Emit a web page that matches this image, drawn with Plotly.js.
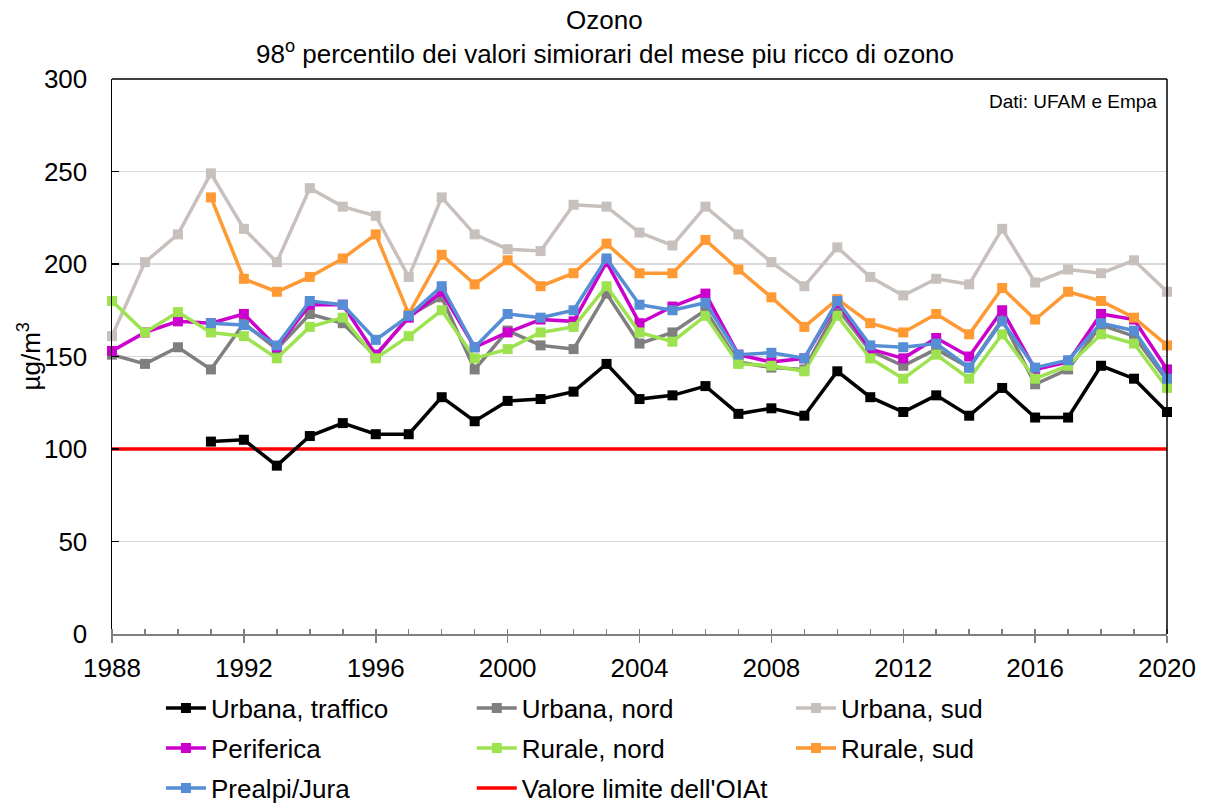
<!DOCTYPE html>
<html>
<head>
<meta charset="utf-8">
<script src="https://cdn.plot.ly/plotly-3.0.1.min.js"></script>
<style>html,body{margin:0;padding:0;background:#fff;}#chart{width:1210px;height:807px;}</style>
</head>
<body>
<div id="chart"></div>
<script>
const years = [1988,1989,1990,1991,1992,1993,1994,1995,1996,1997,1998,1999,2000,2001,2002,2003,2004,2005,2006,2007,2008,2009,2010,2011,2012,2013,2014,2015,2016,2017,2018,2019,2020];

const urbanaTraffico = [null,null,null,104,105,91,107,114,108,108,128,115,126,127,131,146,127,129,134,119,122,118,142,128,120,129,118,133,117,117,145,138,120];
const urbanaNord = [151,146,155,143,168,154,173,168,150,172,182,143,164,156,154,184,157,163,175,147,144,143,176,153,145,154,144,170,135,143,167,161,137];
const urbanaSud = [161,201,216,249,219,201,241,231,226,193,236,216,208,207,232,231,217,210,231,216,201,188,209,193,183,192,189,219,190,197,195,202,185];
const periferica = [153,163,169,168,173,155,178,178,151,171,185,155,163,170,169,201,168,177,184,151,147,149,179,154,149,160,150,175,143,147,173,170,143];
const ruraleNord = [180,163,174,163,161,149,166,171,149,161,175,149,154,163,166,188,163,158,172,146,145,142,172,149,138,151,138,162,138,145,162,157,133];
const ruraleSud = [null,null,null,236,192,185,193,203,216,173,205,189,202,188,195,211,195,195,213,197,182,166,181,168,163,173,162,187,170,185,180,171,156];
const prealpiJura = [null,null,null,168,167,156,180,178,159,172,188,155,173,171,175,203,178,175,179,151,152,149,180,156,155,157,144,169,144,148,168,164,138];
const limitValue = [100,100];
const limitYears = [1988,2020];

const names = ["Urbana, traffico","Urbana, nord","Urbana, sud","Periferica","Rurale, nord","Rurale, sud","Prealpi/Jura","Valore limite dell'OIAt"];
const seriesList = [urbanaTraffico, urbanaNord, urbanaSud, periferica, ruraleNord, ruraleSud, prealpiJura];
const colors = ["#000000","#7f7f7f","#c8c0bd","#cc00cc","#9de24f","#ff9933","#558ed5","#ff0000"];

const FONT = "Liberation Sans, Arial, sans-serif";
const FS = 26;

// legend grid (3 columns x 3 rows), one legend per entry
const legendIds = ["legend","legend2","legend3","legend4","legend5","legend6","legend7","legend8"];
const colX = [0.0464, 0.341, 0.6436];
const rowY = [-0.1333, -0.2054, -0.2775];

const traces = [];
traces.push({
  x: limitYears, y: limitValue, name: names[7], type: "scatter", mode: "lines",
  line: {color: colors[7], width: 3.5}, legend: legendIds[7], cliponaxis: false
});
seriesList.forEach((s, i) => {
  traces.push({
    x: years, y: s, name: names[i], type: "scatter", mode: "lines+markers",
    line: {color: colors[i], width: 3.5},
    marker: {symbol: "square", size: 10, color: colors[i]},
    legend: legendIds[i], cliponaxis: false, connectgaps: false
  });
});

const layout = {
  width: 1210, height: 807,
  margin: {l: 112, r: 43, t: 79, b: 173, autoexpand: false},
  paper_bgcolor: "#fff", plot_bgcolor: "#fff",
  font: {family: FONT, size: FS, color: "#000"},
  showlegend: true,
  xaxis: {
    range: [1988, 2020], tick0: 1988, dtick: 4, tickmode: "linear",
    showgrid: false, zeroline: false,
    showline: true, linecolor: "#808080", linewidth: 2,
    ticks: "outside", ticklen: 7, tickcolor: "#808080", tickwidth: 1.5,
    minor: {dtick: 1, ticks: "inside", ticklen: 5, tickcolor: "#808080", tickwidth: 1.5, showgrid: false},
    tickfont: {family: FONT, size: FS, color: "#000"},
    ticklabelstandoff: 3, automargin: false
  },
  yaxis: {
    range: [0, 300], dtick: 50, tickmode: "linear",
    showgrid: true, gridcolor: "#d9d9d9", gridwidth: 1.5, zeroline: false,
    showline: true, linecolor: "#000", linewidth: 1.5,
    ticks: "inside", ticklen: 7, tickcolor: "#000", tickwidth: 1.5,
    tickfont: {family: FONT, size: FS, color: "#000"},
    ticklabelstandoff: 18, automargin: false
  },
  shapes: [
    {type: "line", xref: "paper", yref: "paper", x0: 0, x1: 1, y0: 1, y1: 1, line: {color: "#000", width: 1.5}},
    {type: "line", xref: "paper", yref: "paper", x0: 1, x1: 1, y0: 0, y1: 1, line: {color: "#000", width: 1.5}}
  ],
  annotations: [
    {text: "Ozono", showarrow: false, xref: "paper", yref: "paper",
     x: 0.467, y: 1 + (79 - 20) / 555, xanchor: "center", yanchor: "middle",
     font: {family: FONT, size: FS, color: "#000"}},
    {text: "98<sup>o</sup> percentilo dei valori simiorari del mese piu ricco di ozono", showarrow: false,
     xref: "paper", yref: "paper", x: 0.467, y: 1 + (79 - 52) / 555, xanchor: "center", yanchor: "middle",
     font: {family: FONT, size: FS, color: "#000"}},
    {text: "µg/m<sup>3</sup>", showarrow: false, xref: "paper", yref: "paper", textangle: -90,
     x: (30 - 112) / 1055, y: 0.5, xanchor: "center", yanchor: "middle",
     font: {family: FONT, size: FS, color: "#000"}},
    {text: "Dati: UFAM e Empa", showarrow: false, xref: "paper", yref: "paper",
     x: 0.992, y: 0.96, xanchor: "right", yanchor: "middle",
     font: {family: FONT, size: 19, color: "#000"}}
  ]
};

legendIds.forEach((id, k) => {
  layout[id] = {
    orientation: "h", xanchor: "left", yanchor: "middle",
    x: colX[k % 3], y: rowY[Math.floor(k / 3)],
    font: {family: FONT, size: FS, color: "#000"}, bgcolor: "rgba(0,0,0,0)", itemwidth: 40
  };
});

Plotly.newPlot("chart", traces, layout, {displayModeBar: false, staticPlot: true});
</script>
</body>
</html>
